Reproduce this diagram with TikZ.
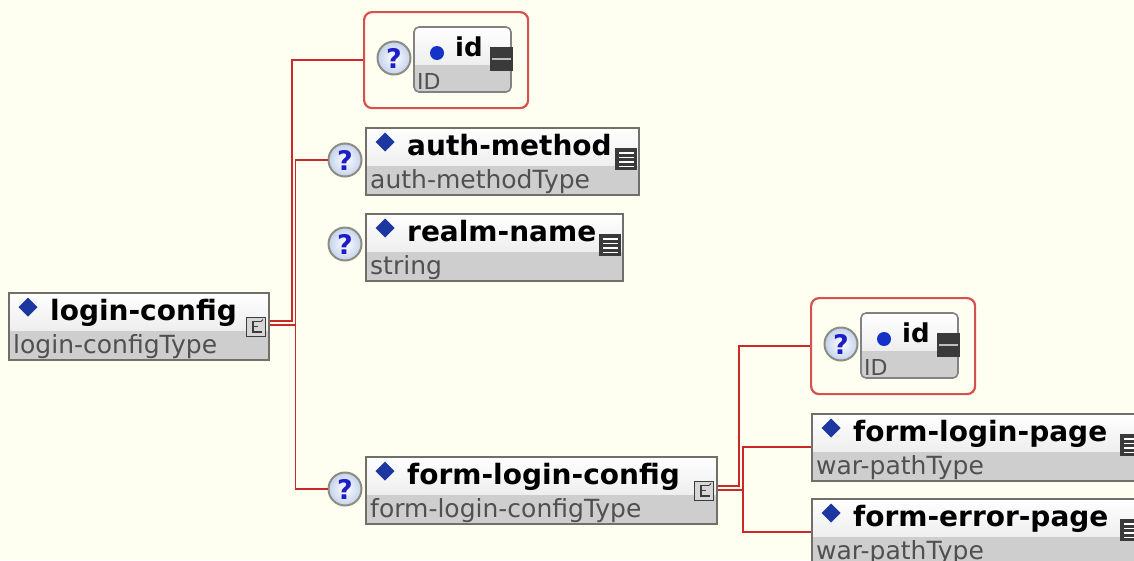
\documentclass[tikz,border=0pt]{standalone}
\usepackage{fontspec}
\setmainfont{DejaVu Sans}
\usetikzlibrary{calc}
\definecolor{bgc}{RGB}{255,255,241}
\definecolor{boxc}{RGB}{112,112,104}
\definecolor{bandc}{RGB}{206,206,206}
\definecolor{topg}{RGB}{238,238,238}
\definecolor{typec}{RGB}{80,80,80}
\definecolor{redc}{RGB}{204,40,40}
\definecolor{attrred}{RGB}{214,80,80}
\definecolor{diac}{RGB}{28,56,160}
\definecolor{dotc}{RGB}{20,50,200}
\definecolor{darkc}{RGB}{58,58,58}
\definecolor{lightbar}{RGB}{190,190,190}
\definecolor{iconc}{RGB}{60,60,60}
\definecolor{iconf}{RGB}{214,214,214}
\definecolor{qring}{RGB}{140,140,130}
\definecolor{qfill}{RGB}{196,210,236}
\definecolor{qblue}{RGB}{30,30,200}
\definecolor{innerc}{RGB}{130,130,130}
\tikzset{
  elembox/.style={draw=boxc, line width=1.6pt, inner sep=0pt, anchor=north west, minimum height=67pt},
  titletext/.style={font=\bfseries\fontsize{28}{30}\selectfont, text=black, inner sep=0pt, anchor=base west},
  typetext/.style={font=\fontsize{25}{27}\selectfont, text=typec, inner sep=0pt, anchor=base west},
  qmark/.style={circle, draw=qring, line width=2pt, inner color=white, outer color=qfill, minimum size=33pt, inner sep=0pt, text=qblue, font=\bfseries\fontsize{27}{27}\selectfont},
  conn/.style={draw=redc, line width=1.7pt},
  attrbox/.style={draw=attrred, line width=2.2pt, rounded corners=8pt, inner sep=0pt, anchor=north west, minimum width=164pt, minimum height=96pt},
  cicon/.style={draw=iconc, fill=iconf, line width=1pt, minimum size=19pt, inner sep=0pt, anchor=north east},
  sicon/.style={fill=darkc, minimum size=22pt, inner sep=0pt, anchor=north east},
}
\newcommand\xelem[7]{%
  \pgfmathsetmacro\xw{#4-#2}%
  \begin{scope}
    \clip (#2,#3) rectangle (#4,{#3+67});
    \shade[top color=white, bottom color=topg] (#2,#3) rectangle (#4,{#3+39});
    \fill[bandc] (#2,{#3+39}) rectangle (#4,{#3+67});
    \node[titletext] (#1T) at ({#2+42},{#3+28}) {#5};
    \node[typetext] (#1Y) at ({#2+5},{#3+61}) {#6};
  \end{scope}
  \node[elembox, minimum width=\xw pt] (#1) at (#2,#3) {};
  \fill[diac] ({#2+20},{#3+5.5}) -- ++(9.5,9.5) -- ++(-9.5,9.5) -- ++(-9.5,-9.5) -- cycle;
  \if#7c
    \node[cicon] (#1I) at ({#4-2},{#3+25}) {};
    \draw[iconc, line width=1.1pt] ({#4-7},{#3+29.5}) -- ({#4-15},{#3+29.5}) -- ({#4-15},{#3+40}) -- ({#4-6},{#3+40});
    \draw[iconc, line width=1.1pt] ({#4-15},{#3+34.5}) -- ({#4-10},{#3+34.5});
    \draw[iconc, line width=1pt] ({#4-7},{#3+29.5}) -- ({#4-5},{#3+27.5});
  \else
    \node[sicon] (#1I) at ({#4-1},{#3+21}) {};
    \foreach \k in {5,9.5,14,18.5} {
      \draw[white, line width=1.3pt] ({#4-19},{#3+21+\k}) -- ({#4-4},{#3+21+\k});
    }
  \fi
}
\newcommand\xattr[3]{%
  \node[attrbox] (#1) at (#2,#3) {};
  \begin{scope}
    \clip[rounded corners=5pt] ({#2+51},{#3+16}) rectangle ({#2+148},{#3+81});
    \shade[top color=white, bottom color=topg] ({#2+51},{#3+16}) rectangle ({#2+148},{#3+54});
    \fill[bandc] ({#2+51},{#3+54}) rectangle ({#2+148},{#3+81});
  \end{scope}
  \draw[innerc, line width=1.6pt, rounded corners=5pt] ({#2+51},{#3+16}) rectangle ({#2+148},{#3+81});
  \fill[dotc] ({#2+74},{#3+42}) circle (7pt);
  \node[titletext, font=\bfseries\fontsize{26}{26}\selectfont] (#1T) at ({#2+92},{#3+45}) {id};
  \fill[darkc] ({#2+127},{#3+36}) rectangle ({#2+150},{#3+60});
  \draw[lightbar, line width=2pt] ({#2+129},{#3+48}) -- ({#2+148},{#3+48});
  \node[typetext, font=\fontsize{22}{22}\selectfont] (#1Y) at ({#2+54},{#3+78}) {ID};
  \node[qmark] (#1Q) at ({#2+31},{#3+47}) {?};
}
\begin{document}
\begin{tikzpicture}[x=1pt,y=-1pt]
\fill[bgc] (0,0) rectangle (1134,560);
\useasboundingbox (0,0) rectangle (1134,560);
\begin{scope}
\clip (0,0) rectangle (1134,560);
\xelem{lc}{8}{292}{268}{login-config}{login-configType}{c}
\xelem{am}{365}{127}{638}{auth-method}{auth-methodType}{s}
\xelem{rn}{365}{213}{622}{realm-name}{string}{s}
\xelem{flc}{365}{456}{716}{form-login-config}{form-login-configType}{c}
\xelem{flp}{811}{413}{1143}{form-login-page}{war-pathType}{s}
\xelem{fep}{811}{498}{1143}{form-error-page}{war-pathType}{s}
\xattr{idA}{363}{11}
\xattr{idB}{810}{297}
\node[qmark] (amQ) at (345,160) {?};
\node[qmark] (rnQ) at (345,244) {?};
\node[qmark] (flcQ) at (345,489) {?};
\draw[conn] ([yshift=5pt]lc.east) -| ([xshift=-71pt]idA.west) -- (idA.west);
\draw[conn] ([yshift=1.5pt]lc.east) -| ([xshift=-32pt]amQ.west) -- (amQ.west);
\draw[conn] ([yshift=1.5pt]lc.east) -| ([xshift=-32pt]flcQ.west) -- (flcQ.west);
\draw[conn] ([yshift=4.5pt]flc.east) -| ([xshift=-71pt]idB.west) -- (idB.west);
\draw[conn] (flc.east) -| ([xshift=-68pt]flp.west) -- (flp.west);
\draw[conn] (flc.east) -| ([xshift=-68pt]fep.west) -- (fep.west);
\end{scope}
\end{tikzpicture}
\end{document}
